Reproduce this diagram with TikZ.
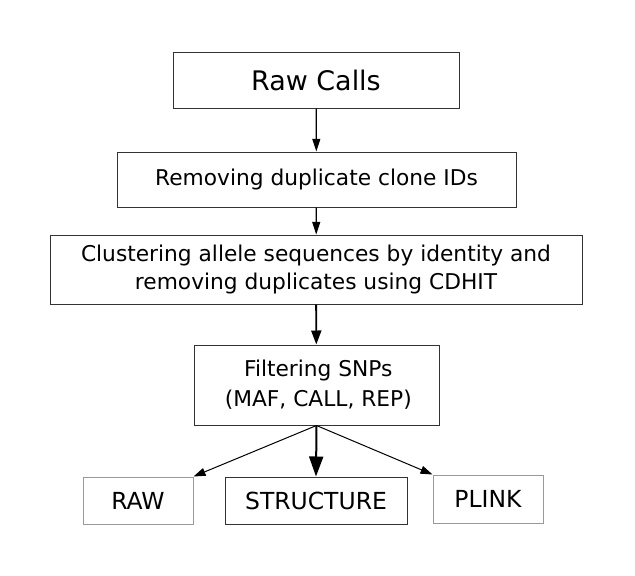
\documentclass[tikz,border=0pt]{standalone}
\usepackage{fontspec}
\setmainfont{DejaVu Sans}
\usetikzlibrary{arrows.meta,positioning}
\tikzset{
  stagebox/.style={rectangle, draw=black!80, line width=0.75pt, fill=white,
    font=\fontsize{16.3}{21}\selectfont, align=center, inner sep=0pt},
  outbox/.style={rectangle, draw=black!80, line width=0.75pt, fill=white,
    font=\fontsize{17.6}{21}\selectfont, align=center, inner sep=0pt},
  sidebox/.style={outbox, draw=black!40},
  arrthin/.style={-{Triangle[length=9.5pt, width=6pt]}, line width=0.9pt, black},
  arrmid/.style={-{Triangle[length=10.5pt, width=7.5pt]}, line width=1.4pt, black},
  arrbig/.style={-{Triangle[length=15pt, width=10.5pt]}, line width=1.5pt, black},
  arrside/.style={-{Triangle[length=9pt, width=6pt]}, line width=0.75pt, black},
}

\begin{document}
\begin{tikzpicture}[x=0.75pt, y=-0.75pt]
\useasboundingbox (0,0) rectangle (635,575);

% ---------------- PIPELINE ----------------
\node[stagebox, minimum width=286*0.75pt, minimum height=56*0.75pt,
  font=\fontsize{20.2}{24}\selectfont] (n-raw) at (316,80) {Raw Calls};
\node[stagebox, minimum width=399*0.75pt, minimum height=55*0.75pt] (n-dup) at (316.5,179.5)
  {Removing duplicate clone IDs};
\node[stagebox, minimum width=532*0.75pt, minimum height=69*0.75pt] (n-cdhit) at (316,269.5)
  {Clustering allele sequences by identity and\\removing duplicates using CDHIT};
\node[stagebox, minimum width=245*0.75pt, minimum height=80*0.75pt,
  font=\fontsize{16.3}{22.5}\selectfont] (n-filt) at (316.5,385)
  {\,Filtering SNPs\\\,(MAF, CALL, REP)};

% ---------------- OUTPUT FORMATS ----------------
\node[sidebox, minimum width=110*0.75pt, minimum height=47*0.75pt] (n-rawout) at (138,500.5) {RAW};
\node[outbox, minimum width=182*0.75pt, minimum height=47*0.75pt] (n-struct) at (316,500.5) {STRUCTURE};
\node[sidebox, minimum width=110*0.75pt, minimum height=48*0.75pt] (n-plink) at (488,499) {PLINK};

% ---- spine ----
\draw[arrthin] (n-raw)   -- (n-dup);
\draw[arrthin] (n-dup)   -- (n-cdhit);
\draw[arrmid]  (n-cdhit) -- (n-filt);

% ---- branches ----
\draw[arrside] (n-filt.south) -- (n-rawout.north east);
\draw[arrbig]  (n-filt.south) -- (n-struct.north);
\draw[arrside] (n-filt.south) -- (n-plink.north west);

\end{tikzpicture}
\end{document}
